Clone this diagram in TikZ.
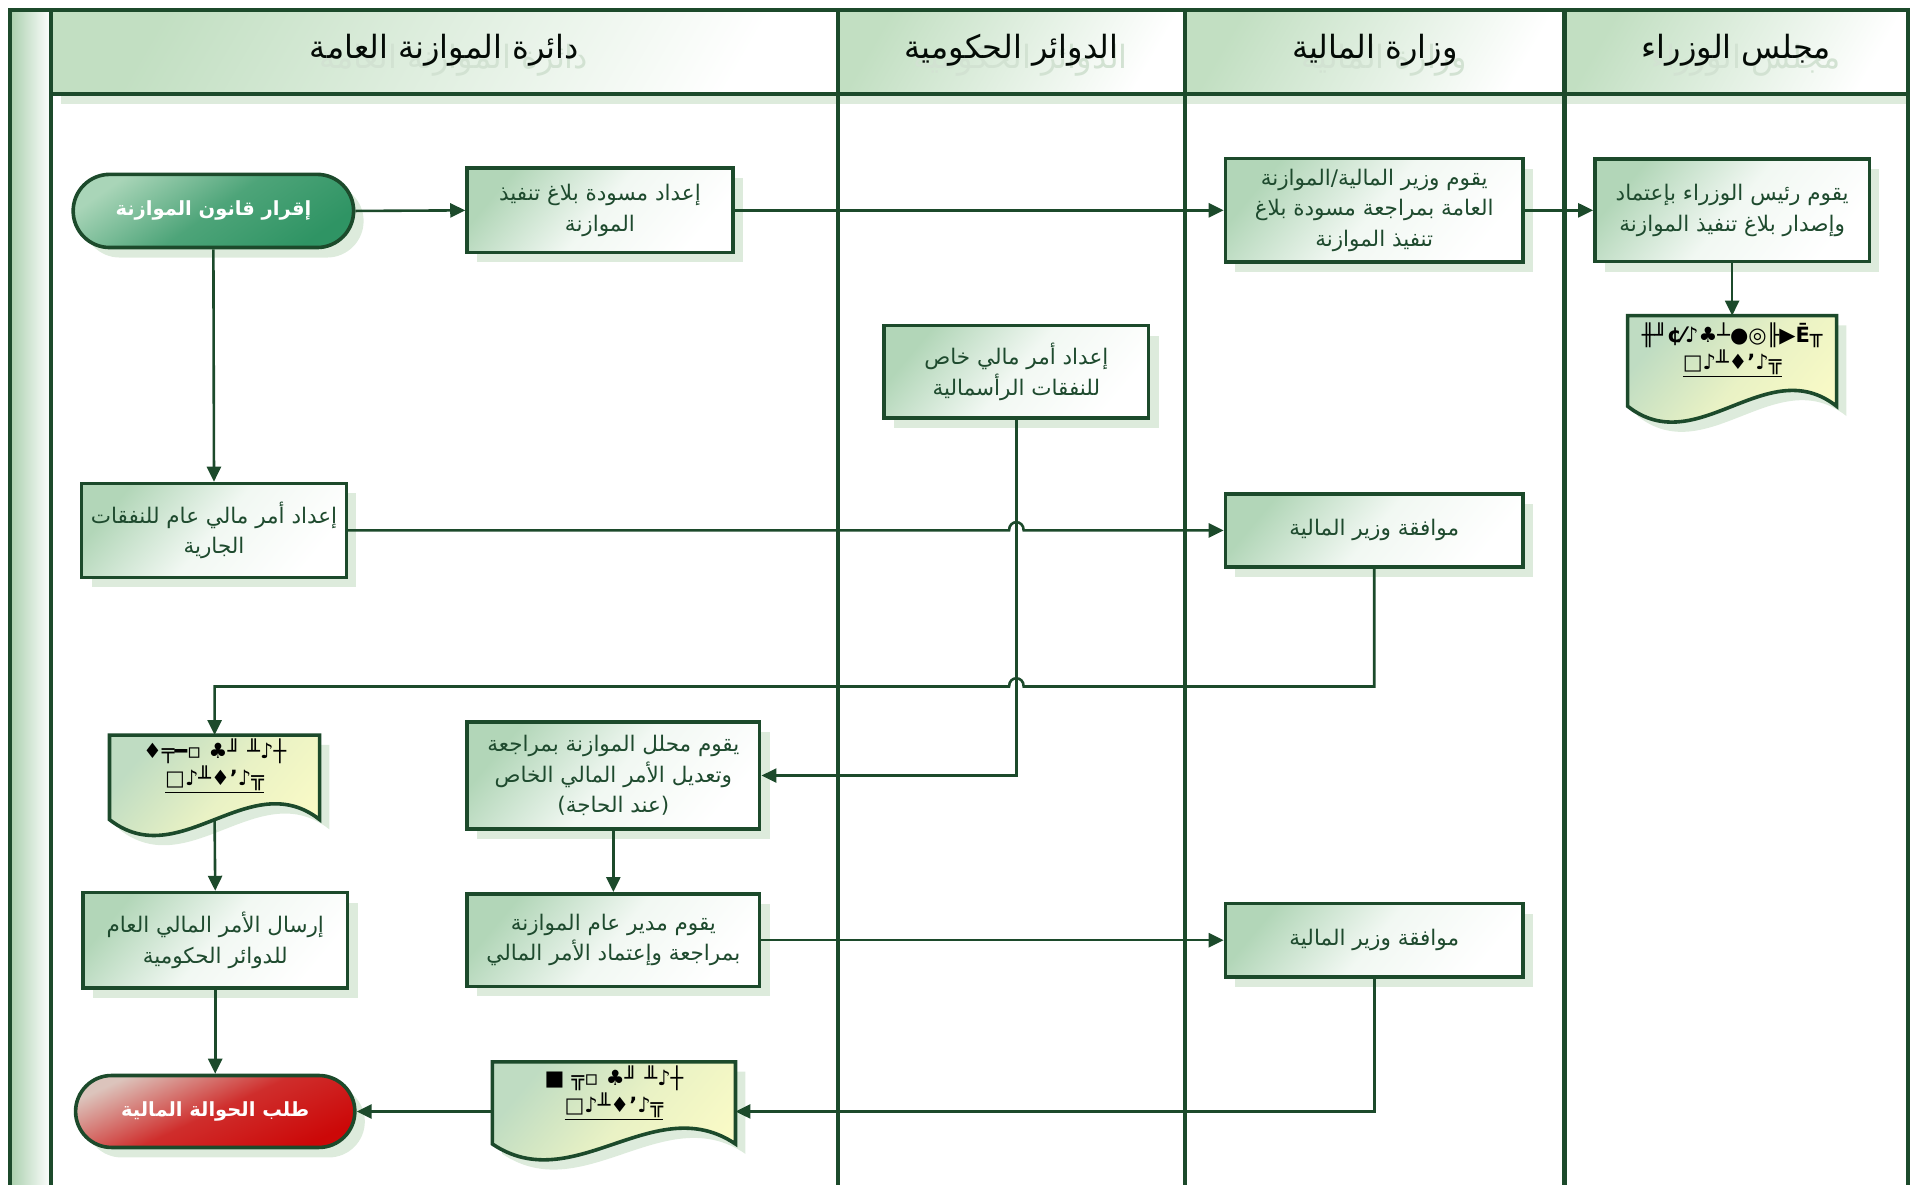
\documentclass[tikz,border=0pt]{standalone}
\usepackage{fontspec}
\setmainfont{DejaVu Sans}
\newfontfamily\arabicfont[Script=Arabic]{DejaVu Sans}
\newfontfamily\symfont{DejaVu Sans}
\TeXXeTstate=1
\usetikzlibrary{arrows.meta,calc,shapes.misc,shadows}
\definecolor{dkg}{HTML}{1C4A2B}
\definecolor{txtg}{HTML}{1E4A2E}
\definecolor{boxg}{HTML}{B2D6B8}
\definecolor{shd}{HTML}{DDEBDC}
\definecolor{hdrg}{HTML}{C2DFC2}
\definecolor{stripg}{HTML}{A9CFAC}
\definecolor{ghost}{HTML}{D2E2D2}
\definecolor{termA}{HTML}{A9D5B8}
\definecolor{termB}{HTML}{2F9464}
\definecolor{redA}{HTML}{DCC4BC}
\definecolor{redB}{HTML}{CC0808}
\definecolor{docg}{HTML}{BFDCC2}
\definecolor{docy}{HTML}{FBFBC6}
\newcommand\AR[1]{\beginR #1\endR}
\newcommand\docdraw[1]{%
  \fill[shd] ($(#1.north west)+(8,8)$) -- ($(#1.north east)+(8,8)$) -- ($(#1.south east)+(8,8)$)
    .. controls ($(#1.south east)!0.333!(#1.south west)+(8,-37)$) and ($(#1.south east)!0.667!(#1.south west)+(8,53)$) .. ($(#1.south west)+(8,8)$) -- cycle;
  \draw[dkg, line width=3.6pt, top color=docg, bottom color=docy, middle color=docy!70!docg, shading angle=50]
    (#1.north west) -- (#1.north east) -- (#1.south east)
    .. controls ($(#1.south east)!0.333!(#1.south west)+(0,-45)$) and ($(#1.south east)!0.667!(#1.south west)+(0,45)$) .. (#1.south west) -- cycle;}
\begin{document}
\begin{tikzpicture}[x=1.2194pt, y=-1.2194pt,
  sz/.style 2 args={minimum width=#1*1.2194pt, minimum height=#2*1.2194pt},
  box/.style={draw=dkg, line width=3.6pt, top color=boxg, bottom color=white, middle color=boxg!18!white, shading angle=50,
    inner sep=0pt, align=center, text=txtg, font=\arabicfont\fontsize{21.5}{30.5}\selectfont,
    drop shadow={shadow xshift=10pt, shadow yshift=-10pt, fill=shd, opacity=1}},
  term/.style={draw=dkg, line width=3.6pt, rounded rectangle, inner sep=0pt, align=center,
    text=white, font=\arabicfont\bfseries\fontsize{19.5}{30}\selectfont,
    drop shadow={shadow xshift=10pt, shadow yshift=-10pt, fill=shd, opacity=1}},
  docn/.style={inner sep=0pt, align=center, text=black, font=\symfont\bfseries\fontsize{21}{27}\selectfont},
  hdr/.style={font=\arabicfont\fontsize{32}{34}\selectfont, text=black!85!dkg},
  ghosttxt/.style={font=\arabicfont\fontsize{32}{34}\selectfont, text=ghost},
  lane/.style={draw=dkg, line width=4.2pt},
  conn/.style={draw=dkg, line width=2.6pt, -{Triangle[length=15pt,width=14pt]}},
  ]
\useasboundingbox (0,0) rectangle (1568,971);
\clip (0,0) rectangle (1568,971);
% backgrounds
\fill[left color=stripg, right color=white] (8,9) rectangle (42,980);
\fill[top color=hdrg, bottom color=white, shading angle=60] (42,9) rectangle (687,77);
\fill[top color=hdrg, bottom color=white, shading angle=60] (687,9) rectangle (972,77);
\fill[top color=hdrg, bottom color=white, shading angle=60] (972,9) rectangle (1283,77);
\fill[top color=hdrg, bottom color=white, shading angle=60] (1283,9) rectangle (1565,77);
\fill[shd] (50,79) rectangle (1565,85);
% header texts (with their faint reflection)
\node[ghosttxt] (g1) at (372,49) {\AR{دائرة الموازنة العامة}};
\node[ghosttxt] (g2) at (837,49) {\AR{الدوائر الحكومية}};
\node[ghosttxt] (g3) at (1135,49) {\AR{وزارة المالية}};
\node[ghosttxt] (g4) at (1432,49) {\AR{مجلس الوزراء}};
\node[hdr] (h1) at (364.5,41) {\AR{دائرة الموازنة العامة}};
\node[hdr] (h2) at (829.5,41) {\AR{الدوائر الحكومية}};
\node[hdr] (h3) at (1127.5,41) {\AR{وزارة المالية}};
\node[hdr] (h4) at (1424,41) {\AR{مجلس الوزراء}};
% frame and lanes
\draw[lane] (8,980) -- (8,8) -- (1565,8) -- (1565,980);
\draw[lane] (42,8) -- (42,980);
\draw[lane] (687,8) -- (687,980);
\draw[lane] (972,8) -- (972,980);
\draw[lane] (1283,8) -- (1283,980);
\draw[lane] (42,77) -- (1565,77);
% nodes
\node[term, sz={230}{60}, top color=termA, bottom color=termB, middle color=termB!75!termA, shading angle=35] (t1) at (175,173) {\AR{إقرار قانون الموازنة}};
\node[box, sz={218}{69}] (b1) at (492,172.5) {\AR{إعداد مسودة بلاغ تنفيذ}\\\AR{الموازنة}};
\node[box, sz={244}{85}] (m1) at (1127,172.5) {\AR{يقوم وزير المالية/الموازنة}\\\AR{العامة بمراجعة مسودة بلاغ}\\\AR{تنفيذ الموازنة}};
\node[box, sz={225}{84}] (p1) at (1420.5,172.5) {\AR{يقوم رئيس الوزراء بإعتماد}\\\AR{وإصدار بلاغ تنفيذ الموازنة}};
\node[docn, sz={171}{74}] (d2) at (1420.5,296) {};
\node[box, sz={217}{76}] (lt) at (833.5,305) {\AR{إعداد أمر مالي خاص}\\\AR{للنفقات الرأسمالية}};
\node[box, sz={217}{77}] (cur) at (175.5,435) {\AR{إعداد أمر مالي عام للنفقات}\\\AR{الجارية}};
\node[box, sz={244}{60}] (m2) at (1127,435) {\AR{موافقة وزير المالية}};
\node[docn, sz={172}{69}] (d1) at (176,637.5) {};
\node[box, sz={240}{88}] (an) at (503,636) {\AR{يقوم محلل الموازنة بمراجعة}\\\AR{وتعديل الأمر المالي الخاص}\\\AR{(عند الحاجة)}};
\node[box, sz={240}{76}] (mg) at (503,771) {\AR{يقوم مدير عام الموازنة}\\\AR{بمراجعة وإعتماد الأمر المالي}};
\node[box, sz={244}{60}] (m3) at (1127,771) {\AR{موافقة وزير المالية}};
\node[box, sz={217}{78}] (snd) at (176.5,771) {\AR{إرسال الأمر المالي العام}\\\AR{للدوائر الحكومية}};
\node[docn, sz={199}{67}] (d3) at (503.5,904.5) {};
\node[term, sz={229}{59}, top color=redA, bottom color=redB, middle color=redB!80!redA, shading angle=25] (t2) at (176.5,911.5) {\AR{طلب الحوالة المالية}};
% document shapes
\docdraw{d1}
\docdraw{d2}
\docdraw{d3}
\node[docn] (d1t) at (176,628) {♦╤━▫ ♣╜ ╨♪┼\\\underline{□♪╨♦ʼ♪╦}};
\node[docn] (d2t) at (1420.5,287) {╫╜¢⁄♪♣┴●◎╟▶Ē╥\\\underline{□♪╨♦ʼ♪╦}};
\node[docn] (d3t) at (503.5,896) {■ ╦▫ ♣╜ ╨♪┼\\\underline{□♪╨♦ʼ♪╦}};
% connectors
\coordinate (y563) at (0,563);
\draw[conn] (t1.east) -- (b1.west);
\draw[conn] (b1.east) -- (m1.west);
\draw[conn] (m1.east) -- (p1.west);
\draw[conn] (p1.south) -- (d2.north);
\draw[conn] (t1.south) -- (cur.north);
\draw[conn] (lt.south) |- (an.east);
\draw[conn] (cur.east) -- ($(lt.south |- cur.east)+(-6,0)$) .. controls +(0,-9) and +(0,-9) .. ($(lt.south |- cur.east)+(6,0)$) -- (m2.west);
\draw[conn] (m2.south) -- (m2.south |- y563) -- ($(lt.south |- y563)+(6,0)$) .. controls +(0,-9) and +(0,-9) .. ($(lt.south |- y563)+(-6,0)$) -| (d1.north);
\draw[conn] (an.south) -- (mg.north);
\draw[conn] (d1.south) -- (snd.north);
\draw[conn] (mg.east) -- (m3.west);
\draw[conn] (snd.south) -- (t2.north);
\draw[conn] (m3.south) |- (d3.east |- t2.east);
\draw[conn] (d3.west |- t2.east) -- (t2.east);
\end{tikzpicture}
\end{document}
